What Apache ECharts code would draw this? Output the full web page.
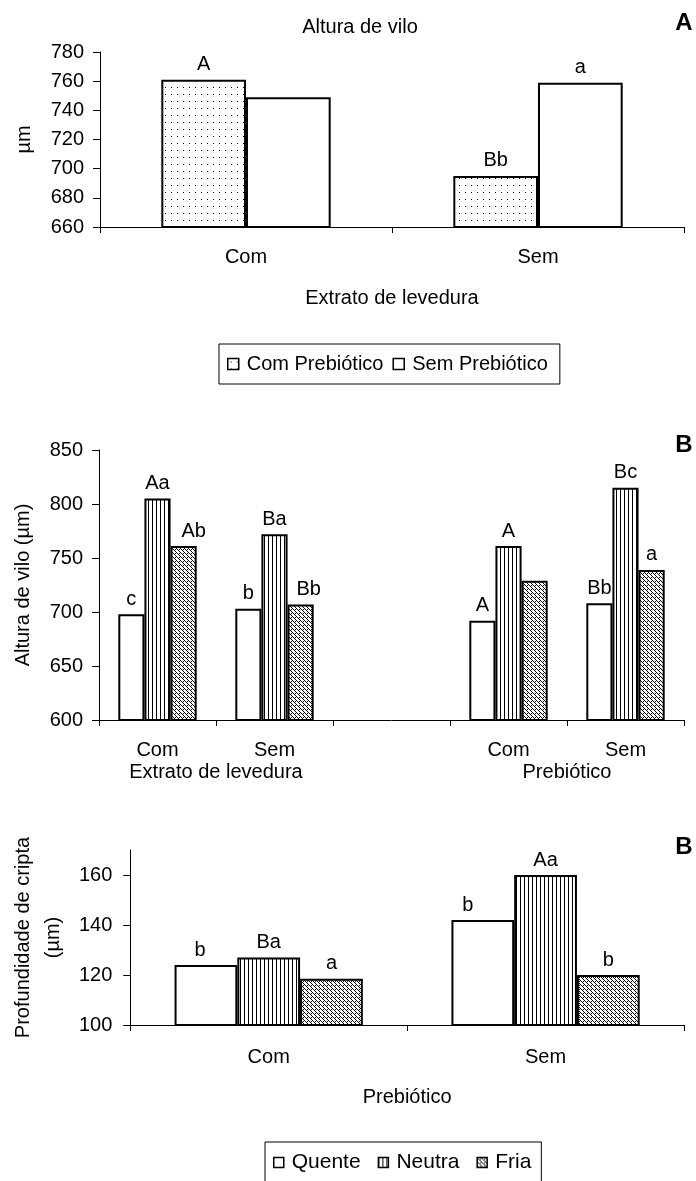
<!DOCTYPE html>
<html><head><meta charset="utf-8">
<script src="https://cdn.jsdelivr.net/npm/echarts@6/dist/echarts.min.js"></script>
<style>html,body{margin:0;padding:0;background:#fff}#c{width:696px;height:1181px}</style>
</head><body><div id="c"></div>
<script>
// ---- Panel A data ----
const catsA = ['Com', 'Sem'];
const comPrebA = [761, 695];
const semPrebA = [749, 759];
const lblComPrebA = ['A', 'Bb'];
const lblSemPrebA = ['', 'a'];
const ticksA = [660, 680, 700, 720, 740, 760, 780];

// ---- Panel B data ----
const catsB = ['Com', 'Sem', '', 'Com', 'Sem'];
const groupsB = ['', 'Extrato de levedura', '', '', 'Prebiótico', ''];
const quenteB = [698, 703, null, 692, 708];
const neutraB = [805, 772, null, 761, 815];
const friaB = [761, 707, null, 729, 739];
const lblQuenteB = ['c', 'b', '', 'A', 'Bb'];
const lblNeutraB = ['Aa', 'Ba', '', 'A', 'Bc'];
const lblFriaB = ['Ab', 'Bb', '', '', 'a'];

// ---- Panel C data ----
const catsC = ['Com', 'Sem'];
const quenteC = [124, 142];
const neutraC = [127, 160];
const friaC = [118.5, 120];
const lblQuenteC = ['b', 'b'];
const lblNeutraC = ['Ba', 'Aa'];
const lblFriaC = ['a', 'b'];
const ticksC = [100, 120, 140, 160];

const FONT = "'Liberation Sans', Arial, sans-serif";
const FS = 20;

// label horizontal nudges (style only)
const nudge = {
  friaB: [10, 8, 0, 0, 0],
  quenteC: [-6, -15]
};

function pat(w, h, draw) {
  const c = document.createElement('canvas');
  c.width = w; c.height = h;
  const g = c.getContext('2d');
  g.fillStyle = '#fff'; g.fillRect(0, 0, w, h);
  g.fillStyle = '#000'; draw(g);
  return { image: c, repeat: 'repeat' };
}
const dots = pat(6, 7, g => g.fillRect(3, 3, 1, 1));
const vstripes = pat(4, 1, g => g.fillRect(0, 0, 1, 1));
const hatch = pat(4, 4, g => { for (let i = 0; i < 4; i++) g.fillRect(i, i, 1, 1); g.fillRect(3, 1, 1, 1); });

const axisLine = { show: true, lineStyle: { color: '#000', width: 1 } };
const txt = { fontFamily: FONT, fontSize: FS, color: '#000' };

function lbl(arr) {
  return { show: true, position: 'top', distance: 5, ...txt, formatter: p => arr[p.dataIndex] || '' };
}
function bar(name, data, labels, fill, xi, yi, gap, offs) {
  const d = offs ? data.map((v, i) => ({ value: v, label: { offset: [offs[i] || 0, 0] } })) : data;
  return {
    type: 'bar', name, data: d, xAxisIndex: xi, yAxisIndex: yi,
    barGap: '0%', barCategoryGap: gap,
    itemStyle: { color: fill, borderColor: '#000', borderWidth: 2 },
    label: lbl(labels), emphasis: { disabled: true }, animation: false
  };
}

const chart = echarts.init(document.getElementById('c'), null, { renderer: 'canvas' });
chart.setOption({
  animation: false,
  backgroundColor: '#fff',
  textStyle: { fontFamily: FONT },
  title: [
    { text: 'Altura de vilo', left: 360, top: 27, textAlign: 'center', textVerticalAlign: 'middle', padding: 0, textStyle: { ...txt, fontWeight: 'normal' } },
    { text: 'A', left: 684, top: 23, textAlign: 'center', textVerticalAlign: 'middle', padding: 0, textStyle: { ...txt, fontSize: 24, fontWeight: 'bold' } },
    { text: 'B', left: 684, top: 445, textAlign: 'center', textVerticalAlign: 'middle', padding: 0, textStyle: { ...txt, fontSize: 24, fontWeight: 'bold' } },
    { text: 'B', left: 684, top: 847, textAlign: 'center', textVerticalAlign: 'middle', padding: 0, textStyle: { ...txt, fontSize: 24, fontWeight: 'bold' } }
  ],
  legend: [
    { data: ['Com Prebiótico', 'Sem Prebiótico'], left: 219, top: 344, orient: 'horizontal',
      padding: [10, 12, 10, 8], borderColor: '#000', borderWidth: 1, itemWidth: 11, itemHeight: 11, itemGap: 9,
      icon: 'rect', itemStyle: { borderColor: '#000', borderWidth: 1.5 }, textStyle: { ...txt, padding: [0, 0, 0, 3] }, selectedMode: false },
    { data: ['Quente', 'Neutra', 'Fria'], left: 265, top: 1142, orient: 'horizontal',
      padding: [10, 10, 20, 8], borderColor: '#000', borderWidth: 1, itemWidth: 10, itemHeight: 10, itemGap: 17,
      icon: 'rect', itemStyle: { borderColor: '#000', borderWidth: 1.5 }, textStyle: { ...txt, fontSize: 21, padding: [0, 0, 0, 3] }, selectedMode: false }
  ],
  grid: [
    { left: 100, right: 12, top: 52, height: 175 },
    { left: 99, right: 12, top: 450, height: 270 },
    { left: 129, right: 12, top: 850, height: 175 }
  ],
  xAxis: [
    { type: 'category', gridIndex: 0, data: catsA, axisLine, axisTick: { show: true, length: 6, lineStyle: { color: '#000' } },
      axisLabel: { ...txt, margin: 20 }, name: 'Extrato de levedura', nameLocation: 'middle', nameGap: 61, nameTextStyle: { ...txt } },
    { type: 'category', gridIndex: 1, data: catsB, axisLine, axisTick: { show: true, length: 6, lineStyle: { color: '#000' } },
      axisLabel: { ...txt, margin: 20, interval: 0 } },
    { type: 'category', gridIndex: 1, position: 'bottom', data: groupsB, boundaryGap: false, axisLine: { show: false }, axisTick: { show: false },
      axisLabel: { ...txt, margin: 42, interval: 0 } },
    { type: 'category', gridIndex: 2, data: catsC, axisLine, axisTick: { show: true, length: 6, lineStyle: { color: '#000' } },
      axisLabel: { ...txt, margin: 22 }, name: 'Prebiótico', nameLocation: 'middle', nameGap: 62, nameTextStyle: { ...txt } }
  ],
  yAxis: [
    { type: 'value', gridIndex: 0, min: ticksA[0], max: ticksA[ticksA.length - 1], interval: 20, axisLine, splitLine: { show: false },
      axisTick: { show: true, length: 7, lineStyle: { color: '#000' } }, axisLabel: { ...txt, margin: 16 },
      name: 'µm', nameLocation: 'middle', nameGap: 66, nameTextStyle: { ...txt } },
    { type: 'value', gridIndex: 1, min: 600, max: 850, interval: 50, axisLine, splitLine: { show: false },
      axisTick: { show: true, length: 7, lineStyle: { color: '#000' } }, axisLabel: { ...txt, margin: 16 },
      name: 'Altura de vilo (µm)', nameLocation: 'middle', nameGap: 66, nameTextStyle: { ...txt } },
    { type: 'value', gridIndex: 2, min: 100, max: 170, interval: 20, axisLine, splitLine: { show: false },
      axisTick: { show: true, length: 7, lineStyle: { color: '#000' }, customValues: ticksC },
      axisLabel: { ...txt, margin: 18, customValues: ticksC },
      name: 'Profundidade de cripta\n(µm)', nameLocation: 'middle', nameGap: 57, nameTextStyle: { ...txt, lineHeight: 30 } }
  ],
  series: [
    bar('Com Prebiótico', comPrebA, lblComPrebA, dots, 0, 0, '42%'),
    bar('Sem Prebiótico', semPrebA, lblSemPrebA, '#fff', 0, 0, '42%'),
    bar('Quente', quenteB, lblQuenteB, '#fff', 1, 1, '33%'),
    bar('Neutra', neutraB, lblNeutraB, vstripes, 1, 1, '33%'),
    bar('Fria', friaB, lblFriaB, hatch, 1, 1, '33%', nudge.friaB),
    bar('Quente', quenteC, lblQuenteC, '#fff', 3, 2, '32%', nudge.quenteC),
    bar('Neutra', neutraC, lblNeutraC, vstripes, 3, 2, '32%'),
    bar('Fria', friaC, lblFriaC, hatch, 3, 2, '32%')
  ]
});
</script></body></html>
